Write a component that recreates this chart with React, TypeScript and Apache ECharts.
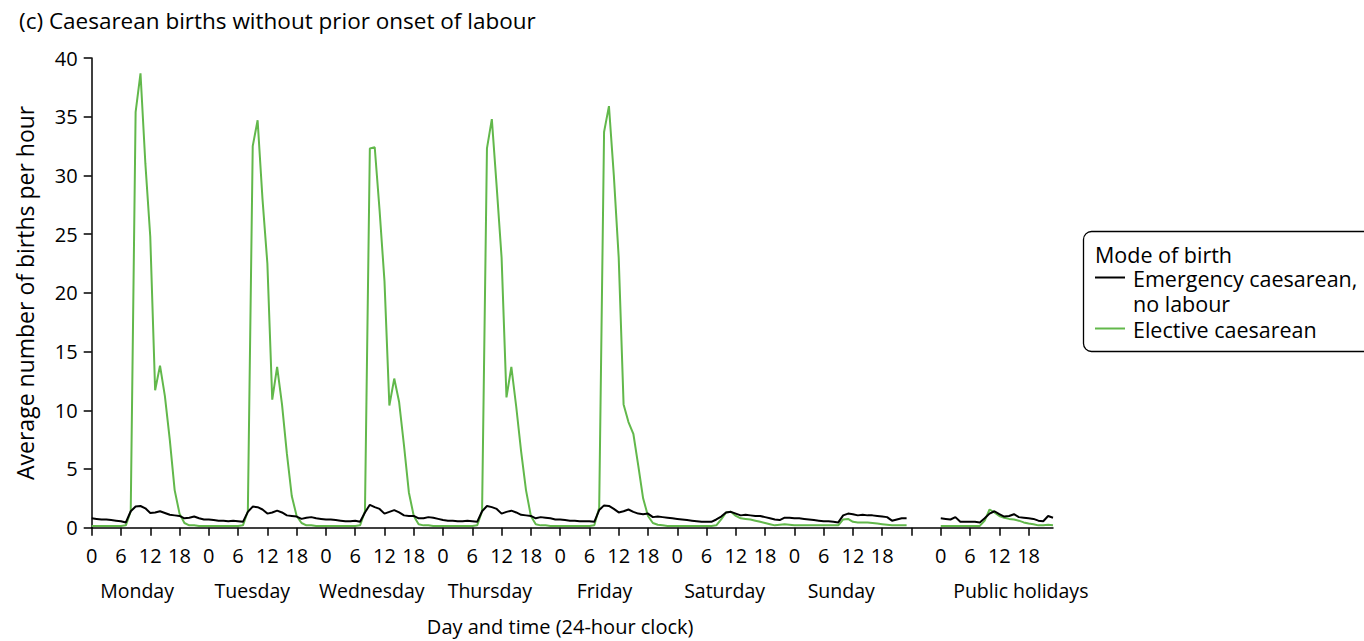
import React, { useEffect, useRef } from "react";
import * as echarts from "echarts";

// ---------- data ----------
const dayNames = ["Monday", "Tuesday", "Wednesday", "Thursday", "Friday", "Saturday", "Sunday", "Public holidays"];
const dayStartHour = [0, 24, 48, 72, 96, 120, 144, 174];
const dayLabelPos = [9.3, 32.9, 57.4, 81.6, 105.1, 129.7, 153.6, 190.4];
const tickValues = [0, 6, 12, 18, 24, 30, 36, 42, 48, 54, 60, 66, 72, 78, 84, 90, 96, 102, 108, 114, 120, 126, 132, 138, 144, 150, 156, 162, 168, 174, 180, 186, 192];
const tickLabels = ["0", "6", "12", "18", "0", "6", "12", "18", "0", "6", "12", "18", "0", "6", "12", "18", "0", "6", "12", "18", "0", "6", "12", "18", "0", "6", "12", "18", "", "0", "6", "12", "18"];
const yTicks = [0, 5, 10, 15, 20, 25, 30, 35, 40];

// Emergency caesarean, no labour (hourly, 0..23)
const emergencyMon = [0.8, 0.75, 0.7, 0.7, 0.65, 0.6, 0.55, 0.45, 1.4, 1.8, 1.85, 1.65, 1.25, 1.3, 1.4, 1.25, 1.1, 1.05, 1.0, 0.8, 0.85, 0.95, 0.8, 0.7];
const emergencyTue = [0.7, 0.65, 0.6, 0.6, 0.55, 0.6, 0.55, 0.5, 1.35, 1.8, 1.75, 1.55, 1.2, 1.3, 1.45, 1.3, 1.05, 1.0, 0.95, 0.75, 0.85, 0.9, 0.8, 0.75];
const emergencyWed = [0.7, 0.7, 0.65, 0.6, 0.55, 0.55, 0.6, 0.5, 1.3, 1.95, 1.75, 1.6, 1.2, 1.35, 1.5, 1.3, 1.05, 1.0, 1.0, 0.8, 0.8, 0.9, 0.85, 0.75];
const emergencyThu = [0.65, 0.6, 0.6, 0.55, 0.55, 0.6, 0.55, 0.5, 1.4, 1.85, 1.75, 1.6, 1.2, 1.35, 1.45, 1.3, 1.1, 1.05, 1.0, 0.8, 0.9, 0.85, 0.8, 0.7];
const emergencyFri = [0.7, 0.65, 0.6, 0.6, 0.55, 0.55, 0.55, 0.5, 1.5, 1.9, 1.85, 1.6, 1.3, 1.4, 1.55, 1.35, 1.2, 1.15, 1.2, 0.9, 0.95, 0.9, 0.85, 0.8];
const emergencySat = [0.75, 0.7, 0.65, 0.6, 0.55, 0.5, 0.5, 0.5, 0.7, 0.95, 1.3, 1.35, 1.2, 1.05, 1.1, 1.05, 1.0, 1.0, 0.9, 0.8, 0.7, 0.65, 0.85, 0.85];
const emergencySun = [0.8, 0.8, 0.75, 0.7, 0.65, 0.6, 0.55, 0.55, 0.5, 0.45, 1.05, 1.2, 1.15, 1.05, 1.1, 1.05, 1.05, 1.0, 0.95, 0.9, 0.6, 0.7, 0.8, 0.8];
const emergencyHol = [0.8, 0.75, 0.7, 0.9, 0.5, 0.5, 0.5, 0.5, 0.45, 0.8, 1.2, 1.4, 1.15, 0.95, 1.0, 1.15, 0.9, 0.85, 0.8, 0.75, 0.6, 0.55, 1.0, 0.85];

// Elective caesarean (hourly, 0..23)
const electiveMon = [0.15, 0.15, 0.15, 0.15, 0.15, 0.15, 0.15, 0.2, 1.4, 35.4, 38.7, 31.0, 24.8, 11.7, 13.8, 11.2, 7.5, 3.2, 1.2, 0.4, 0.2, 0.2, 0.15, 0.15];
const electiveTue = [0.15, 0.15, 0.15, 0.15, 0.15, 0.15, 0.15, 0.2, 1.4, 32.5, 34.7, 28.0, 22.5, 10.9, 13.7, 10.5, 6.3, 2.7, 1.0, 0.4, 0.2, 0.2, 0.15, 0.15];
const electiveWed = [0.15, 0.15, 0.15, 0.15, 0.15, 0.15, 0.15, 0.2, 1.4, 32.3, 32.4, 27.0, 21.0, 10.4, 12.7, 10.7, 7.0, 3.0, 1.0, 0.3, 0.2, 0.2, 0.15, 0.15];
const electiveThu = [0.15, 0.15, 0.15, 0.15, 0.15, 0.15, 0.15, 0.2, 1.4, 32.3, 34.8, 29.0, 23.0, 11.1, 13.7, 10.3, 6.5, 3.2, 1.0, 0.3, 0.2, 0.2, 0.15, 0.15];
const electiveFri = [0.15, 0.15, 0.15, 0.15, 0.15, 0.15, 0.15, 0.2, 1.7, 33.7, 35.9, 30.0, 23.0, 10.5, 9.0, 8.0, 5.3, 2.5, 1.0, 0.4, 0.25, 0.2, 0.15, 0.15];
const electiveSat = [0.15, 0.15, 0.15, 0.15, 0.15, 0.15, 0.15, 0.15, 0.2, 0.7, 1.3, 1.35, 1.0, 0.8, 0.75, 0.7, 0.6, 0.5, 0.4, 0.3, 0.2, 0.25, 0.3, 0.25];
const electiveSun = [0.2, 0.2, 0.2, 0.2, 0.2, 0.2, 0.2, 0.2, 0.2, 0.2, 0.7, 0.75, 0.5, 0.45, 0.45, 0.45, 0.4, 0.35, 0.3, 0.25, 0.2, 0.2, 0.2, 0.2];
const electiveHol = [0.15, 0.15, 0.15, 0.15, 0.15, 0.15, 0.15, 0.15, 0.15, 0.6, 1.55, 1.3, 1.0, 0.85, 0.75, 0.7, 0.6, 0.45, 0.35, 0.3, 0.2, 0.2, 0.25, 0.2];

const emergencyByDay = [emergencyMon, emergencyTue, emergencyWed, emergencyThu, emergencyFri, emergencySat, emergencySun, emergencyHol];
const electiveByDay = [electiveMon, electiveTue, electiveWed, electiveThu, electiveFri, electiveSat, electiveSun, electiveHol];

const seriesNames = ["Emergency caesarean, no labour", "Elective caesarean"];
const BLACK = "#000000";
const GREEN = "#62b84b";
const FONT = "'Open Sans', 'Noto Sans', sans-serif";
const LEG_FONT = `21.5px ${FONT}`;

function buildSeriesData(byDay: number[][]) {
  const out: any[] = [];
  byDay.forEach((vals, d) => {
    if (d === 7) out.push([dayStartHour[6] + 24, "-"]); // gap before public holidays
    vals.forEach((v, h) => out.push([dayStartHour[d] + h, v]));
  });
  return out;
}

export default function App() {
  const ref = useRef<HTMLDivElement>(null);
  useEffect(() => {
    if (!ref.current) return;
    const chart = echarts.init(ref.current, null, { renderer: "svg" });
    const baseAxis = {
      type: "value",
      min: 0,
      max: 197,
      position: "bottom",
      splitLine: { show: false },
    };
    const legText = (text: string, x: number, y: number) => ({
      type: "text",
      x,
      y,
      style: { text, fill: "#000", font: LEG_FONT, lineHeight: 22, verticalAlign: "middle" },
      z: 11,
    });
    chart.setOption({
      animation: false,
      textStyle: { fontFamily: FONT },
      title: {
        text: "(c) Caesarean births without prior onset of labour",
        left: 14,
        top: 4,
        textStyle: { fontSize: 22.5, fontWeight: "normal", color: "#000", fontFamily: FONT },
      },
      grid: { left: 91.7, right: 311, top: 58, bottom: 113.3, containLabel: false },
      xAxis: [
        {
          ...baseAxis,
          axisLine: { show: true, lineStyle: { color: "#000", width: 1.5 } },
          axisTick: { show: true, length: 8, customValues: tickValues, lineStyle: { color: "#000", width: 1.5 } },
          axisLabel: {
            customValues: tickValues,
            fontSize: 20,
            color: "#000",
            fontFamily: FONT,
            margin: 18,
            formatter: (v: number) => {
              const i = tickValues.indexOf(v);
              return i >= 0 ? tickLabels[i] : "";
            },
          },
        },
        {
          ...baseAxis,
          axisLine: { show: false },
          axisTick: { show: false },
          axisLabel: {
            customValues: dayLabelPos,
            fontSize: 19.5,
            color: "#000",
            fontFamily: FONT,
            margin: 53,
            formatter: (v: number) => {
              const i = dayLabelPos.indexOf(v);
              return i >= 0 ? dayNames[i] : "";
            },
          },
        },
        {
          ...baseAxis,
          axisLine: { show: false },
          axisTick: { show: false },
          axisLabel: {
            customValues: [96],
            fontSize: 20,
            color: "#000",
            fontFamily: FONT,
            margin: 89,
            formatter: () => "Day and time (24-hour clock)",
          },
        },
      ],
      yAxis: {
        type: "value",
        min: yTicks[0],
        max: yTicks[yTicks.length - 1],
        interval: 5,
        name: "Average number of births per hour",
        nameLocation: "middle",
        nameGap: 55,
        nameTextStyle: { fontSize: 23, color: "#000", fontFamily: FONT },
        axisLine: { show: true, lineStyle: { color: "#000", width: 1.5 } },
        axisTick: { show: true, length: 8, lineStyle: { color: "#000", width: 1.5 } },
        axisLabel: { fontSize: 20, color: "#000", margin: 14, fontFamily: FONT },
        splitLine: { show: false },
      },
      series: [
        {
          name: seriesNames[0],
          type: "line",
          xAxisIndex: 0,
          data: buildSeriesData(emergencyByDay),
          showSymbol: false,
          symbol: "none",
          connectNulls: false,
          lineStyle: { color: BLACK, width: 2 },
          itemStyle: { color: BLACK },
          z: 3,
        },
        {
          name: seriesNames[1],
          type: "line",
          xAxisIndex: 0,
          data: buildSeriesData(electiveByDay),
          showSymbol: false,
          symbol: "none",
          connectNulls: false,
          lineStyle: { color: GREEN, width: 2 },
          itemStyle: { color: GREEN },
          z: 2,
        },
      ],
      graphic: [
        {
          type: "rect",
          shape: { x: 1083.5, y: 231.5, width: 400, height: 120, r: 8 },
          style: { fill: "#fff", stroke: "#000", lineWidth: 1.3 },
          z: 10,
        },
        legText("Mode of birth", 1095, 254),
        {
          type: "line",
          shape: { x1: 1095, y1: 277.5, x2: 1125, y2: 277.5 },
          style: { stroke: BLACK, lineWidth: 2 },
          z: 11,
        },
        legText("Emergency caesarean,", 1133, 278),
        legText("no labour", 1133, 303),
        {
          type: "line",
          shape: { x1: 1095, y1: 328.5, x2: 1125, y2: 328.5 },
          style: { stroke: GREEN, lineWidth: 2 },
          z: 11,
        },
        legText("Elective caesarean", 1133, 329),
      ],
    });
    return () => chart.dispose();
  }, []);
  return <div ref={ref} style={{ position: "absolute", left: 0, top: 0, width: 1364, height: 641 }} />;
}
